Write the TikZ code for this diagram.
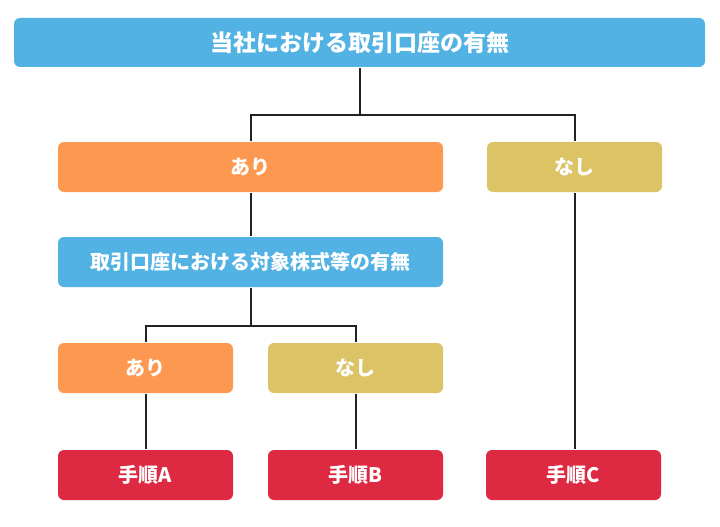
\documentclass[tikz,border=0pt]{standalone}
\usepackage{fontspec}
\setmainfont{Noto Sans CJK JP}
\usepackage{tikz}

\definecolor{boxblue}{HTML}{52B2E4}
\definecolor{boxorange}{HTML}{FD9850}
\definecolor{boxyellow}{HTML}{DCC366}
\definecolor{boxred}{HTML}{DD2A42}
\definecolor{linegray}{HTML}{222222}

\begin{document}
\begin{tikzpicture}[
            x = 1pt, y = -1pt, % pixel grid, y down
            line width = 2pt,
        ]

        \tikzset{
            box/.style = {
                rounded corners = 6pt,
                text = white,
                font = \fontsize{20}{22}\selectfont\bfseries,
                minimum height = 50pt,
                inner sep = 0pt
            },
            wide/.style = {box, minimum width = 385pt},
            narrow/.style = {box, minimum width = 175pt}
        }

  \useasboundingbox (0,0) rectangle (720,527);

  \node[box, fill=boxblue, minimum width=691pt, minimum height=49pt,
        font=\fontsize{23}{25}\selectfont\bfseries] (top) at (359.5,42.5) {当社における取引口座の有無};
  \node[wide, fill=boxorange] (ari1) at (250.5,167) {あり};
  \node[narrow, fill=boxyellow] (nashi1) at (574.5,167) {なし};
  \node[wide, fill=boxblue] (check) at (250.5,262) {取引口座における対象株式等の有無};
  \node[narrow, fill=boxorange] (ari2) at (145.5,368) {あり};
  \node[narrow, fill=boxyellow] (nashi2) at (355.5,368) {なし};
  \node[narrow, fill=boxred] (stepA) at (145.5,475) {手順A};
  \node[narrow, fill=boxred] (stepB) at (355.5,475) {手順B};
  \node[narrow, fill=boxred] (stepC) at (573.5,475) {手順C};

  \coordinate (j1) at (359.5,115);
  \coordinate (j2) at (250.5,326);

  \draw[linegray] (top) -- (j1);
  \draw[linegray] (ari1) |- (j1) -| (nashi1);
  \draw[linegray] (ari1) -- (check);
  \draw[linegray] (check) -- (j2);
  \draw[linegray] (ari2) |- (j2) -| (nashi2);
  \draw[linegray] (ari2) -- (stepA);
  \draw[linegray] (nashi2) -- (stepB);
  \draw[linegray] (nashi1) -- (nashi1 |- stepC.north);

\end{tikzpicture}
\end{document}
